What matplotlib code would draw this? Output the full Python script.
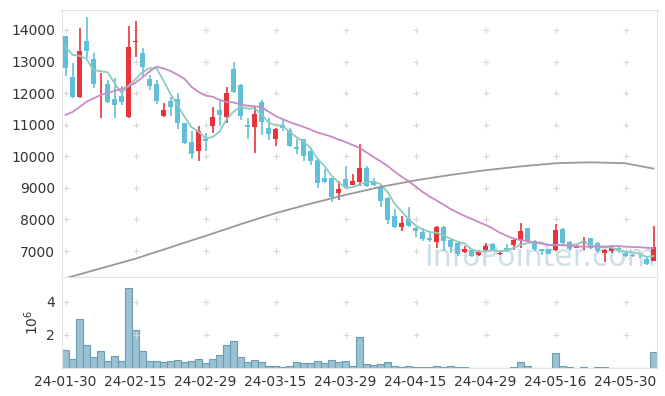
import numpy as np
import pandas as pd
import matplotlib
matplotlib.use("Agg")
import matplotlib.pyplot as plt

# daily candles (trading days, 24-01-30 .. 24-06-05)
opens = [13800, 12520, 11890, 13650, 13080, 12590, 12290, 11820, 11910, 11230,
         13610, 13260, 12450, 12290, 11260, 11750, 11810, 11050, 10450, 10180,
         10540, 10960, 11470, 11250, 12770, 12260, 10990, 10940, 11730, 10890,
         10540, 10990, 10830, 10280, 10540, 10170, 9880, 9300, 9300, 8850,
         9280, 9090, 9200, 9620, 9230, 9040, 8670, 8100, 7770, 8020,
         7720, 7590, 7410, 7300, 7770, 7350, 7250, 6960, 7040, 6880,
         7020, 7230, 6900, 7090, 7180, 7350, 7720, 7330, 7060, 7060,
         7020, 7690, 7300, 7110, 7250, 7410, 7270, 6950, 7010, 7110,
         6950, 6880, 6860, 6760, 6700]
highs = [13800, 12950, 14070, 14400, 13270, 12630, 12420, 12490, 12240, 14130,
         14280, 13420, 12580, 12420, 11680, 11890, 12000, 11060, 10800, 10960,
         10750, 11550, 11800, 12190, 12980, 12280, 11220, 11560, 11770, 11220,
         10890, 11150, 10890, 10540, 10560, 10250, 9950, 9600, 9320, 9210,
         9680, 9440, 10390, 9680, 9310, 9070, 8700, 8320, 8100, 8390,
         7770, 7720, 7560, 7800, 7790, 7380, 7300, 7160, 7060, 7040,
         7270, 7260, 6990, 7220, 7390, 7880, 7740, 7360, 7080, 7080,
         7860, 7720, 7320, 7190, 7440, 7430, 7300, 7060, 7200, 7150,
         6990, 6910, 6950, 6800, 7800]
lows = [12550, 11860, 11860, 13100, 12170, 11200, 11680, 11200, 11630, 11220,
        13150, 12520, 12100, 11650, 11250, 11260, 10860, 10390, 9930, 9860,
        10180, 10740, 10960, 11060, 12000, 11150, 10550, 10100, 10680, 10520,
        10330, 10800, 10300, 10060, 9850, 9740, 9000, 9160, 8560, 8620,
        9000, 9090, 9050, 9020, 9050, 8390, 7850, 7730, 7620, 7770,
        7460, 7320, 7290, 7100, 6990, 6940, 6850, 6930, 6810, 6850,
        6960, 7000, 6870, 6960, 7050, 7110, 7300, 6990, 6880, 6900,
        7000, 7150, 6990, 7090, 7040, 7060, 6950, 6660, 6950, 6950,
        6800, 6800, 6780, 6560, 6690]
closes = [12800, 11890, 13330, 13330, 12300, 12620, 11730, 11630, 11730, 13460,
          13650, 12840, 12240, 11760, 11470, 11570, 11050, 10430, 10080, 10800,
          10490, 11240, 11310, 12000, 12020, 11280, 10940, 11340, 11070, 10710,
          10860, 10890, 10330, 10230, 10010, 9860, 9170, 9190, 8700, 8970,
          9020, 9220, 9620, 9070, 9090, 8590, 7990, 7770, 7880, 7800,
          7620, 7380, 7350, 7770, 7330, 7140, 6910, 7060, 6850, 6985,
          7160, 7040, 6950, 6990, 7350, 7640, 7330, 7060, 7000, 6910,
          7670, 7270, 7060, 7165, 7330, 7090, 6990, 7020, 7110, 6990,
          6830, 6830, 6830, 6590, 7140]
# volume in millions
volumes = [1.10, 0.56, 2.96, 1.36, 0.68, 1.04, 0.44, 0.74, 0.40, 4.84,
           2.30, 1.00, 0.44, 0.44, 0.34, 0.40, 0.50, 0.34, 0.44, 0.56,
           0.28, 0.56, 0.80, 1.36, 1.64, 0.64, 0.34, 0.50, 0.34, 0.14,
           0.14, 0.08, 0.14, 0.34, 0.28, 0.28, 0.44, 0.28, 0.50, 0.34,
           0.40, 0.14, 1.88, 0.26, 0.20, 0.26, 0.34, 0.14, 0.08, 0.14,
           0.08, 0.08, 0.08, 0.14, 0.08, 0.14, 0.08, 0.08, 0.02, 0.02,
           0.02, 0.02, 0.02, 0.02, 0.08, 0.34, 0.14, 0.02, 0.02, 0.02,
           0.88, 0.14, 0.08, 0.02, 0.08, 0.02, 0.08, 0.08, 0.02, 0.02,
           0.02, 0.02, 0.02, 0.02, 0.98]

ma5_head = [13470, 13210, 13180, 13080]
ma20_head = [11310, 11400, 11560, 11730, 11830, 11940, 12000, 12070, 12130, 12205,
             12330, 12500, 12680, 12840, 12780, 12700, 12580, 12450, 12200]
ma120_idx = [0, 5, 10, 15, 20, 25, 30, 35, 40, 45, 50, 55, 60, 65, 70, 75, 80, 84]
ma120_vals = [6140, 6450, 6760, 7120, 7480, 7850, 8200, 8500, 8780, 9030,
              9240, 9410, 9560, 9680, 9780, 9810, 9780, 9610]

tick_pos = [0, 10, 20, 30, 40, 50, 60, 70, 80]
tick_labels = ["24-01-30", "24-02-15", "24-02-29", "24-03-15", "24-03-29",
               "24-04-15", "24-04-29", "24-05-16", "24-05-30"]

UP = "#e8333a"
DOWN = "#62bfda"
GRID = "#d8d8d8"
TXT = "#333333"

x = np.arange(len(closes))
o = np.array(opens, float)
c = np.array(closes, float)
h = np.array(highs, float)
l = np.array(lows, float)

ma5 = pd.Series(c).rolling(5).mean().to_numpy()
ma5[:4] = ma5_head
ma20 = pd.Series(c).rolling(20).mean().to_numpy()
ma20[:19] = ma20_head

fig = plt.figure(figsize=(6.65, 3.96), dpi=100)
ax = fig.add_axes([62 / 665, 1 - 277 / 396, 595 / 665, 267 / 396])
axv = fig.add_axes([62 / 665, 1 - 368 / 396, 595 / 665, 91 / 396], sharex=ax)

# watermark
ax.text(0.998, 0.04, "InfoPointer.com", transform=ax.transAxes, ha="right",
        va="baseline", fontsize=21.5, color="#c2d7e1", alpha=0.8, zorder=0)

# candles
up = c >= o
cols = np.where(up, UP, DOWN)
ax.vlines(x, l, h, colors=cols, linewidth=1.2, zorder=3)
body_h = np.maximum(np.abs(c - o), 25)
ax.bar(x, body_h, bottom=np.minimum(o, c), width=0.65, color=cols, zorder=3)

# moving averages
ax.plot(x, ma5, color="#8ccbbd", lw=1.3, zorder=4)
ax.plot(x, ma20, color="#c98ac5", lw=1.3, zorder=4)
ax.plot(ma120_idx, ma120_vals, color="#999999", lw=1.3, zorder=4)

# volume
axv.bar(x, volumes, width=1.0, color="#9bc2d2", edgecolor="#6b9db2", linewidth=0.8)

ax.set_xlim(-0.5, len(x) - 0.5)
ax.set_ylim(6180, 14630)
ax.set_yticks(range(7000, 14001, 1000))
axv.set_ylim(0, 5.48)
axv.set_yticks([2, 4])
axv.set_ylabel("$10^6$", fontsize=10, color=TXT, labelpad=4)

axv.set_xticks(tick_pos)
axv.set_xticklabels(tick_labels)
plt.setp(ax.get_xticklabels(), visible=False)

for a in (ax, axv):
    for s in a.spines.values():
        s.set_color("#e3e3e3")
    a.tick_params(length=0, labelsize=10, colors=TXT, pad=5)
    # "+" grid marks at tick crossings
    gx, gy = np.meshgrid(tick_pos, a.get_yticks())
    a.scatter(gx.ravel(), gy.ravel(), marker="+", s=18, color=GRID,
              linewidths=0.8, zorder=1, clip_on=False)

fig.savefig("out.png", dpi=100, facecolor="white")
